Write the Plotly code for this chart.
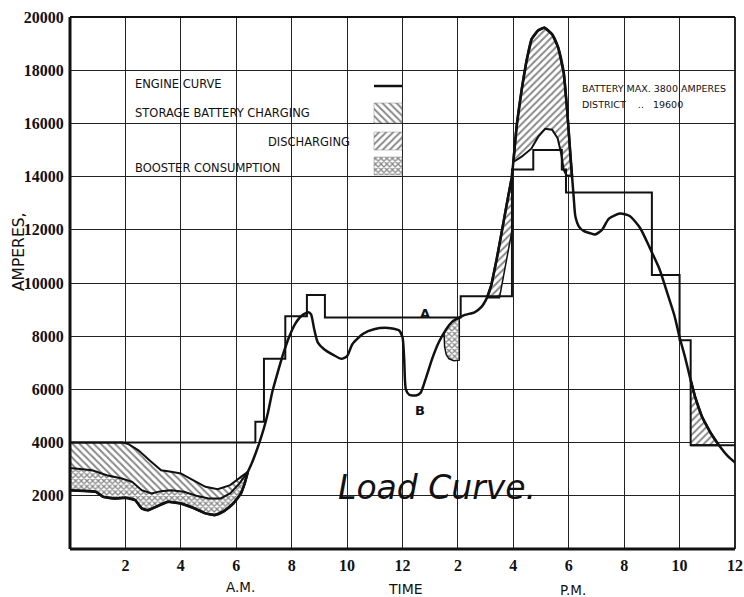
import plotly.graph_objects as go

# ---------------- data (hours after midnight, amperes) ----------------
load_hours = [0, 0.45, 0.93, 1.2, 1.6, 2.0, 2.35, 2.59, 2.82, 3.18, 3.53, 4.0, 4.44, 4.89, 5.22,
              5.56, 5.89, 6.17, 6.3, 6.42, 6.55, 6.7, 6.85, 7.0, 7.15, 7.3, 7.5, 7.7, 7.9, 8.1,
              8.35, 8.6, 8.7, 8.81, 8.94, 9.17, 9.5, 9.8, 10.0, 10.19, 10.58, 10.97, 11.48, 11.87,
              12.0, 12.06, 12.12, 12.24, 12.48, 12.65, 12.83, 13.07, 13.31, 13.55, 13.79, 14.0,
              14.25, 14.6, 14.85, 15.05, 15.2, 15.4, 15.59, 15.75, 15.93, 16.0, 16.12, 16.3,
              16.48, 16.66, 16.9, 17.12, 17.4, 17.62, 17.82, 17.95, 18.07, 18.12, 18.18, 18.24,
              18.38, 18.55, 18.75, 18.95, 19.2, 19.45, 19.85, 20.2, 20.58, 20.93, 21.28, 21.58,
              21.82, 22.0, 22.19, 22.4, 22.56, 22.81, 23.13, 23.42, 23.75, 24.0]
load_amps = [2210, 2190, 2150, 1960, 1900, 1925, 1840, 1525, 1460, 1625, 1775, 1710, 1550, 1340,
             1275, 1425, 1710, 2090, 2450, 2900, 3200, 3600, 4050, 4550, 5150, 5900, 6650, 7350,
             7950, 8420, 8760, 8900, 8820, 8280, 7770, 7510, 7300, 7150, 7250, 7700, 8090, 8260,
             8310, 8220, 7960, 7150, 6000, 5800, 5770, 5870, 6380, 7150, 7770, 8220, 8540, 8670,
             8800, 8900, 9100, 9450, 9900, 10900, 11960, 12900, 13900, 14550, 15900, 17260,
             18370, 19170, 19500, 19600, 19350, 18850, 17900, 16400, 14600, 14000, 13200, 12500,
             12100, 11950, 11880, 11820, 12000, 12420, 12610, 12520, 12060, 11310, 10510, 9540,
             8750, 7960, 7240, 6350, 5720, 4970, 4350, 3900, 3480, 3250]

engine_hours = [0, 6.69, 7.0, 7.77, 8.55, 9.2, 14.1, 15.95, 16.72, 17.75, 17.9, 21.0, 22.0, 22.4, 24]
engine_amps = [4000, 4780, 7150, 8750, 9550, 8700, 9500, 14270, 15000, 14270, 13400, 10300, 7850, 3900, 3900]

charge_top_hours = [0, 1.9, 2.1, 2.47, 2.94, 3.29, 3.65, 4.0, 4.44, 4.89, 5.33, 5.78, 6.17, 6.42]
charge_top_amps = [4000, 4000, 3950, 3710, 3275, 2960, 2900, 2840, 2590, 2340, 2250, 2400, 2710, 2900]

booster_top_hours = [0, 0.8, 1.33, 1.87, 2.24, 2.59, 2.94, 3.29, 3.65, 4.11, 4.56, 5.0, 5.44, 5.78, 6.11, 6.42]
booster_top_amps = [3050, 2960, 2775, 2650, 2525, 2210, 2090, 2175, 2210, 2150, 2000, 1900, 1900, 2090, 2460, 2900]

peak_inner_hours = [16.0, 16.3, 16.65, 16.9, 17.15, 17.4, 17.6, 17.72, 17.82, 17.92, 18.12]
peak_inner_amps = [14550, 14750, 15050, 15500, 15800, 15760, 15440, 14900, 14250, 14050, 14000]

rise_edge_hours = [15.05, 15.5, 15.95, 15.95]
rise_edge_amps = [9450, 9450, 11960, 13900]

evening_edge_hours = [22.4, 23.42]
evening_edge_amps = [3900, 3900]

noon_booster_hours = [13.5, 13.62, 13.78, 13.92, 14.05, 14.05, 13.85, 13.68, 13.58, 13.52, 13.5]
noon_booster_amps = [8100, 8330, 8530, 8640, 8700, 7100, 7080, 7150, 7300, 7600, 8100]

x_tick_vals = [2, 4, 6, 8, 10, 12, 14, 16, 18, 20, 22, 24]
x_tick_text = ["2", "4", "6", "8", "10", "12", "2", "4", "6", "8", "10", "12"]
y_tick_vals = [2000, 4000, 6000, 8000, 10000, 12000, 14000, 16000, 18000, 20000]
y_tick_text = [str(v) for v in y_tick_vals]


def load_slice(a, b):
    idx = [i for i, h in enumerate(load_hours) if a <= h <= b]
    return [load_hours[i] for i in idx], [load_amps[i] for i in idx]


# ---------------- styles ----------------
INK = "#111111"
PAT_CHARGE = dict(shape="\\", fgcolor=INK, bgcolor="white", size=5, solidity=0.4)
PAT_DISCH = dict(shape="/", fgcolor=INK, bgcolor="white", size=5, solidity=0.4)
PAT_BOOST = dict(shape="x", fgcolor=INK, bgcolor="white", size=4, solidity=0.55)

fig = go.Figure()

# night: charging (between engine-top and booster-top), booster (between booster-top and load)
fig.add_trace(go.Scatter(x=charge_top_hours, y=charge_top_amps, mode="lines",
                         line=dict(color=INK, width=2), hoverinfo="skip"))
fig.add_trace(go.Scatter(x=booster_top_hours, y=booster_top_amps, mode="lines",
                         line=dict(color=INK, width=2), fill="tonexty", fillcolor="white",
                         fillpattern=PAT_CHARGE, hoverinfo="skip"))
nh, na = load_slice(0, 6.42)
fig.add_trace(go.Scatter(x=nh, y=na, mode="lines", line=dict(color=INK, width=2.5),
                         fill="tonexty", fillcolor="white", fillpattern=PAT_BOOST, hoverinfo="skip"))

# afternoon peak discharge
fig.add_trace(go.Scatter(x=peak_inner_hours, y=peak_inner_amps, mode="lines",
                         line=dict(color=INK, width=2), hoverinfo="skip"))
ph, pa = load_slice(16.0, 18.12)
fig.add_trace(go.Scatter(x=ph, y=pa, mode="lines", line=dict(color=INK, width=2.5),
                         fill="tonexty", fillcolor="white", fillpattern=PAT_DISCH, hoverinfo="skip"))

# rising discharge sliver
fig.add_trace(go.Scatter(x=rise_edge_hours, y=rise_edge_amps, mode="lines",
                         line=dict(color=INK, width=1.5), hoverinfo="skip"))
rh, ra = load_slice(15.05, 15.93)
fig.add_trace(go.Scatter(x=rh, y=ra, mode="lines", line=dict(color=INK, width=2.5),
                         fill="tonexty", fillcolor="white", fillpattern=PAT_DISCH, hoverinfo="skip"))

# evening discharge
fig.add_trace(go.Scatter(x=evening_edge_hours, y=evening_edge_amps, mode="lines",
                         line=dict(color=INK, width=2), hoverinfo="skip"))
eh, ea = load_slice(22.4, 23.42)
fig.add_trace(go.Scatter(x=eh, y=ea, mode="lines", line=dict(color=INK, width=2.5),
                         fill="tonexty", fillcolor="white", fillpattern=PAT_DISCH, hoverinfo="skip"))

# booster around 2 P.M.
fig.add_trace(go.Scatter(x=noon_booster_hours, y=noon_booster_amps, mode="lines",
                         line=dict(color=INK, width=1.5), fill="toself", fillcolor="white",
                         fillpattern=PAT_BOOST, hoverinfo="skip"))

# engine (step) curve and load curve
fig.add_trace(go.Scatter(x=engine_hours, y=engine_amps, mode="lines", line_shape="hv",
                         line=dict(color=INK, width=2), hoverinfo="skip"))
fig.add_trace(go.Scatter(x=load_hours, y=load_amps, mode="lines", line_shape="spline",
                         line=dict(color=INK, width=2.5, smoothing=0.6), hoverinfo="skip"))

# ---------------- legend swatches (pixel overlay axes) ----------------
LEG_X0, LEG_X1 = 374, 402
fig.add_trace(go.Scatter(x=[LEG_X0, LEG_X1], y=[86, 86], mode="lines", xaxis="x2", yaxis="y2",
                         line=dict(color=INK, width=2.5), hoverinfo="skip"))
for (y0, y1), pat in [((103, 123), PAT_CHARGE), ((132, 150), PAT_DISCH), ((157, 175), PAT_BOOST)]:
    fig.add_trace(go.Scatter(x=[LEG_X0, LEG_X1, LEG_X1, LEG_X0, LEG_X0], y=[y0, y0, y1, y1, y0],
                             mode="lines", xaxis="x2", yaxis="y2", line=dict(color="#888", width=0.5),
                             fill="toself", fillcolor="white", fillpattern=pat, hoverinfo="skip"))

SANS = "DejaVu Sans"
PL, PR, PT, PB = 70, 735, 17, 549  # plot area in page pixels
ann = []


def txt(text, x, y, size, xanchor="center", family=SANS, angle=0, **kw):
    ann.append(dict(text=text, x=(x - PL) / (PR - PL), y=(PB - y) / (PB - PT),
                    xref="paper", yref="paper", showarrow=False, xanchor=xanchor,
                    yanchor="middle", textangle=angle,
                    font=dict(family=family, size=size, color=INK, **kw)))


txt("ENGINE CURVE", 133, 84, 11.5, "left")
txt("STORAGE BATTERY CHARGING", 133, 113, 11.5, "left")
txt("DISCHARGING", 352, 142, 11.5, "right")
txt("BOOSTER CONSUMPTION", 133, 168, 11.5, "left")
txt("BATTERY MAX. 3800 AMPERES", 580, 88, 9.5, "left")
txt("DISTRICT    ..   19600", 580, 104, 9.5, "left")
txt("A", 425, 313, 13, weight="bold")
txt("B", 420, 410, 13, weight="bold")
txt("Load Curve.", 437, 487, 33, style="italic")
txt("A.M.", 240, 587, 13.5)
txt("TIME", 405, 589, 14)
txt("P.M.", 573, 590, 13.5)
txt("AMPERES,", 19, 252, 15.5, angle=-90)

# frame
shapes = [
    dict(type="line", xref="paper", yref="paper", x0=0, x1=0, y0=0, y1=1, line=dict(color=INK, width=3)),
    dict(type="line", xref="paper", yref="paper", x0=0, x1=1, y0=0, y1=0, line=dict(color=INK, width=3)),
    dict(type="line", xref="paper", yref="paper", x0=0, x1=1, y0=1, y1=1, line=dict(color=INK, width=2)),
    dict(type="line", xref="paper", yref="paper", x0=1, x1=1, y0=0, y1=1, line=dict(color=INK, width=1.8)),
]

TICKFONT = dict(family="Liberation Serif", size=16, color=INK, weight="bold")
fig.update_layout(
    width=744, height=597,
    margin=dict(l=PL, r=744 - PR, t=PT, b=597 - PB),
    paper_bgcolor="white", plot_bgcolor="white",
    showlegend=False,
    xaxis=dict(range=[0, 24], tickvals=x_tick_vals, ticktext=x_tick_text, showgrid=True,
               gridcolor="#222", gridwidth=1.4, zeroline=False, showline=False,
               ticks="outside", ticklen=2, tickcolor="rgba(0,0,0,0)", tickfont=TICKFONT,
               automargin=False, fixedrange=True),
    yaxis=dict(range=[0, 20000], tickvals=y_tick_vals, ticktext=y_tick_text, showgrid=True,
               gridcolor="#222", gridwidth=1.4, zeroline=False, showline=False,
               ticks="outside", ticklen=2, tickcolor="rgba(0,0,0,0)", tickfont=TICKFONT,
               automargin=False, fixedrange=True),
    xaxis2=dict(overlaying="x", range=[PL, PR], visible=False, anchor="y2"),
    yaxis2=dict(overlaying="y", range=[PB, PT], visible=False, anchor="x2"),
    annotations=ann,
    shapes=shapes,
)

fig.write_html("out.html")
